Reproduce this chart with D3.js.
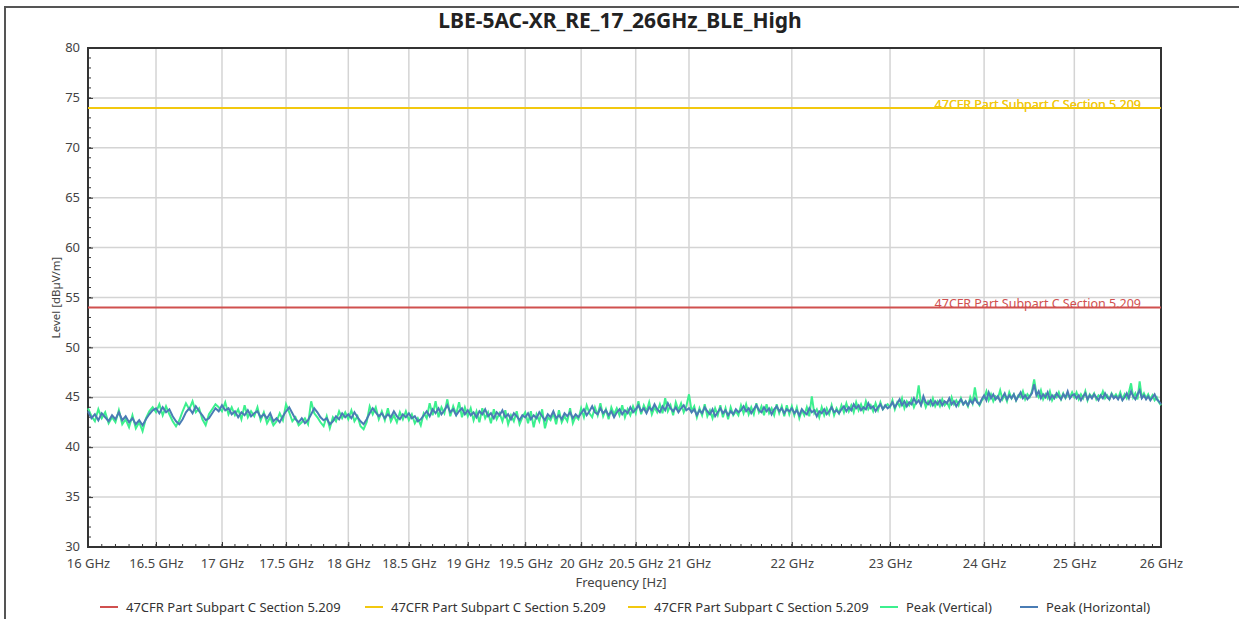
<!DOCTYPE html>
<html>
<head>
<meta charset="utf-8">
<script src="https://cdn.jsdelivr.net/npm/d3@7"></script>
<style>
  body { margin: 0; background: #fff; }
  svg { font-family: "Noto Sans", "Open Sans", sans-serif; }
</style>
</head>
<body>
<div id="chart"></div>
<script>
const chartTitle = "LBE-5AC-XR_RE_17_26GHz_BLE_High";
const xTickValues = [16, 16.5, 17, 17.5, 18, 18.5, 19, 19.5, 20, 20.5, 21, 22, 23, 24, 25, 26];
const yTickValues = [30, 35, 40, 45, 50, 55, 60, 65, 70, 75, 80];

const limitNames = ["47CFR Part Subpart C Section 5.209", "47CFR Part Subpart C Section 5.209", "47CFR Part Subpart C Section 5.209"];
const limitLevels = [54, 74, 74];
const limitColors = ["#d0504f", "#f2c80f", "#f2c80f"];

// sweep grid, GHz
const freqStart = 16;
const freqStep = 0.025;

const peakVertical = [
  43.9, 43.1, 42.6, 43.8, 42.9, 43.5, 42.4, 43.0, 42.5, 43.7, 42.3, 42.8, 42.0, 43.2, 41.9, 42.5, 41.6, 42.9, 43.6, 44.0,
  43.5, 44.3, 43.2, 44.1, 43.3, 42.6, 42.1, 42.7, 43.6, 44.4, 43.8, 44.6, 43.5, 43.9, 42.8, 42.2, 43.3, 43.8, 44.3, 44.0,
  43.6, 44.5, 43.3, 44.0, 43.2, 43.8, 42.8, 44.2, 43.0, 43.6, 43.1, 44.0, 42.7, 43.5, 42.4, 43.0, 42.2, 42.6, 43.4, 42.7,
  44.3, 43.5, 42.6, 43.0, 42.2, 42.5, 42.9, 42.3, 44.6, 43.4, 43.0, 42.5, 42.1, 43.1, 41.9, 43.0, 42.6, 43.6, 42.9, 43.5,
  42.8, 43.7, 42.6, 43.1, 42.1, 41.8, 42.5, 44.1, 43.3, 44.0, 42.8, 43.6, 42.7, 43.9, 42.6, 43.2, 42.5, 43.5, 42.8, 43.6,
  42.7, 43.3, 42.4, 42.9, 42.2, 43.4, 42.9, 44.4, 43.2, 44.6, 43.0, 44.0, 43.4, 44.8, 43.1, 44.1, 43.3, 44.5, 43.0, 44.0,
  43.1, 43.9, 42.7, 43.6, 42.5, 43.9, 42.9, 43.5, 42.4, 43.8, 42.8, 43.4, 42.6, 43.7, 42.3, 43.2, 42.6, 43.6, 42.3, 43.0,
  43.5, 42.4, 43.6, 42.0, 43.3, 42.6, 43.8, 41.9, 43.0, 42.7, 43.4, 42.3, 43.7, 42.5, 43.1, 42.6, 43.9, 42.4, 43.1, 42.8,
  43.9, 43.0, 44.2, 43.4, 43.0, 44.0, 43.2, 44.4, 43.1, 43.8, 42.8, 44.0, 43.3, 43.9, 43.2, 44.2, 43.0, 43.8, 43.2, 44.1,
  43.4, 44.6, 43.3, 44.2, 43.6, 44.5, 43.3, 44.0, 43.5, 44.3, 43.4, 44.9, 43.6, 44.2, 43.2, 44.5, 43.7, 44.4, 43.5, 44.1,
  45.3, 43.6, 44.1, 43.0, 43.9, 43.2, 44.3, 43.1, 43.7, 42.9, 43.9, 43.2, 44.2, 43.0, 43.9, 42.8, 44.0, 43.2, 43.6, 43.2,
  44.2, 43.4, 44.3, 43.3, 44.0, 43.3, 44.4, 43.5, 44.1, 43.2, 44.3, 43.4, 43.9, 43.2, 44.3, 43.4, 44.1, 43.1, 44.2, 43.3,
  44.1, 43.2, 44.0, 42.9, 43.7, 43.2, 44.0, 43.1, 45.1, 43.4, 43.8, 43.0, 44.0, 43.2, 43.9, 43.3, 44.2, 43.2, 43.9, 43.4,
  44.2, 43.5, 44.4, 43.6, 44.2, 43.5, 44.5, 43.7, 44.3, 43.6, 44.6, 43.8, 44.2, 43.6, 44.4, 43.7, 44.5, 43.8, 44.1, 44.3,
  44.0, 44.7, 43.8, 44.5, 44.1, 44.9, 43.9, 44.6, 44.2, 44.8, 44.0, 44.6, 46.2, 44.3, 44.8, 44.0, 44.6, 44.2, 44.9, 44.1,
  44.6, 44.1, 44.8, 44.2, 44.5, 44.0, 45.0, 44.3, 44.7, 44.2, 44.9, 44.3, 44.6, 44.1, 45.0, 44.4, 46.0, 44.6, 44.2, 44.7,
  44.9, 45.6, 44.7, 45.3, 44.6, 45.1, 44.9, 45.7, 44.8, 45.2, 44.6, 45.5, 44.9, 45.3, 44.7, 45.2, 45.0, 45.6, 44.8, 45.3,
  45.0, 45.6, 46.8, 45.4, 45.0, 45.7, 44.8, 45.3, 44.9, 45.6, 44.7, 45.2, 45.0, 45.5, 44.8, 45.4, 44.9, 45.3, 45.0, 45.5,
  45.0, 45.5, 44.8, 45.3, 44.9, 45.6, 44.7, 45.3, 45.0, 45.4, 44.8, 45.2, 45.0, 45.6, 44.9, 45.2, 44.8, 45.4, 45.0, 45.3,
  44.9, 45.5, 44.8, 45.3, 44.9, 45.5, 46.4, 45.0, 45.4, 44.8, 46.6, 45.0, 45.4, 44.9, 45.3, 44.8, 45.2, 44.7, 45.0, 44.5,
  44.2
];

const peakHorizontal = [
  43.6, 42.9, 43.3, 42.7, 43.4, 43.0, 42.6, 43.2, 42.8, 43.5, 42.7, 43.1, 42.5, 42.9, 42.3, 42.7, 42.2, 42.8, 43.3, 43.7,
  43.9, 43.4, 44.0, 43.5, 43.8, 43.1, 42.6, 42.3, 42.8, 43.5, 43.9, 43.4, 44.1, 43.6, 43.2, 42.7, 42.9, 43.4, 43.9, 43.6,
  44.2, 43.7, 43.9, 43.3, 43.6, 43.0, 43.5, 43.2, 43.7, 43.1, 43.4, 43.6, 43.0, 43.3, 42.9, 43.4, 42.6, 42.9, 42.5, 43.1,
  43.6, 44.0, 43.4, 42.8, 42.5, 42.9, 42.4, 42.7, 43.3, 43.9, 43.5, 43.0, 42.7, 42.9, 42.3, 42.6, 43.1, 42.8, 43.4, 43.0,
  43.3, 42.9, 43.5, 43.0, 42.6, 42.3, 42.8, 43.4, 43.9, 43.5, 43.1, 43.4, 42.9, 43.3, 43.0, 43.6, 43.1, 42.8, 43.3, 43.0,
  43.4, 42.9, 43.1, 42.6, 42.8, 43.2, 43.6, 43.1, 43.8, 43.4, 43.9, 43.3, 43.7, 44.2, 43.5, 43.8, 43.2, 43.6, 43.9, 43.3,
  43.7, 43.2, 43.5, 43.0, 43.6, 43.3, 43.8, 43.1, 43.4, 42.9, 43.5, 43.2, 43.7, 43.0, 43.3, 42.8, 43.4, 43.1, 42.7, 43.2,
  43.0, 43.4, 42.8, 43.2, 42.9, 43.5, 43.1, 42.7, 43.3, 43.0, 43.6, 42.9, 43.2, 42.8, 43.4, 43.1, 43.5, 42.9, 43.3, 43.0,
  43.4, 43.8, 43.2, 43.6, 44.1, 43.5, 43.3, 43.9, 43.4, 43.7, 43.2, 43.6, 43.0, 43.5, 43.8, 43.3, 43.7, 43.4, 44.0, 43.5,
  43.8, 44.2, 43.6, 43.9, 43.4, 44.0, 43.7, 44.3, 43.8, 43.5, 44.1, 43.7, 44.4, 43.9, 43.6, 44.0, 43.5, 43.9, 44.2, 43.7,
  43.9, 43.5, 43.8, 43.2, 43.7, 43.4, 44.0, 43.6, 43.3, 43.8, 43.1, 43.5, 43.9, 43.4, 43.7, 43.2, 43.6, 43.3, 43.8, 43.5,
  43.7, 44.1, 43.6, 43.9, 43.4, 43.8, 44.2, 43.7, 43.5, 44.0, 43.6, 43.9, 43.3, 43.8, 44.1, 43.6, 43.9, 43.4, 43.8, 43.6,
  43.9, 43.4, 43.7, 43.2, 43.8, 43.5, 43.3, 43.9, 43.5, 43.7, 43.1, 43.6, 43.4, 43.8, 43.3, 43.6, 44.0, 43.5, 43.7, 43.4,
  43.8, 44.1, 43.6, 44.0, 43.7, 44.3, 43.9, 44.2, 43.7, 44.0, 43.8, 44.4, 43.9, 44.1, 43.6, 44.0, 44.3, 43.8, 44.2, 43.9,
  44.1, 44.5, 44.0, 44.4, 44.8, 44.2, 44.6, 44.1, 44.5, 44.3, 44.9, 44.4, 44.7, 44.2, 45.1, 44.5, 44.3, 44.7, 44.2, 44.6,
  44.3, 44.7, 44.2, 44.6, 44.4, 44.9, 44.3, 44.6, 44.1, 44.5, 44.8, 44.3, 44.6, 44.2, 44.7, 44.4, 44.9, 44.5, 44.3, 44.8,
  45.2, 44.7, 45.5, 44.9, 45.3, 44.8, 45.1, 44.6, 45.0, 45.4, 44.8, 45.2, 44.9, 45.3, 44.7, 45.1, 45.5, 44.9, 45.2, 44.8,
  45.1, 45.4, 46.3, 45.2, 45.6, 44.9, 45.3, 45.0, 45.5, 44.8, 45.2, 44.9, 45.4, 45.1, 44.8, 45.3, 45.0, 45.6, 44.9, 45.2,
  45.3, 44.9, 45.2, 44.7, 45.1, 45.4, 44.8, 45.2, 44.9, 45.3, 45.0, 44.7, 45.2, 44.9, 45.4, 45.0, 44.8, 45.3, 44.9, 45.1,
  44.8, 45.2, 44.7, 45.0, 45.4, 44.9, 45.6, 45.1, 44.8, 45.3, 45.7, 44.9, 45.2, 44.8, 45.1, 44.7, 45.0, 45.3, 44.8, 44.6,
  44.3
];

const legendItems = [
  { name: limitNames[0], color: limitColors[0], x: 100 },
  { name: limitNames[1], color: limitColors[1], x: 365 },
  { name: limitNames[2], color: limitColors[2], x: 628 },
  { name: "Peak (Vertical)", color: "#3cf08e", x: 880 },
  { name: "Peak (Horizontal)", color: "#4a7cb4", x: 1020 }
];

const width = 1239, height = 619;
const margin = { top: 48, right: 78, bottom: 72, left: 88 };
const innerW = width - margin.left - margin.right;
const innerH = height - margin.top - margin.bottom;

const svg = d3.select("#chart").append("svg")
    .attr("width", width)
    .attr("height", height);

// outer frame
svg.append("path")
    .attr("d", `M5,${height} V7 H${width}`)
    .attr("fill", "none")
    .attr("stroke", "#555")
    .attr("stroke-width", 2);

svg.append("text")
    .attr("x", 620)
    .attr("y", 28)
    .attr("text-anchor", "middle")
    .attr("font-size", 21)
    .attr("font-weight", "bold")
    .attr("fill", "#222")
    .text(chartTitle);

const x = d3.scaleLog().domain([16, 26]).range([0, innerW]);
const y = d3.scaleLinear().domain([30, 80]).range([innerH, 0]);

const g = svg.append("g").attr("transform", `translate(${margin.left},${margin.top})`);

// grid
g.append("g")
    .selectAll("line")
    .data(yTickValues.slice(1, -1))
    .join("line")
    .attr("x1", 0).attr("x2", innerW)
    .attr("y1", d => y(d)).attr("y2", d => y(d))
    .attr("stroke", "#d4d4d4")
    .attr("stroke-width", 1.5);

g.append("g")
    .selectAll("line")
    .data(xTickValues.slice(1, -1))
    .join("line")
    .attr("x1", d => x(d)).attr("x2", d => x(d))
    .attr("y1", 0).attr("y2", innerH)
    .attr("stroke", "#d4d4d4")
    .attr("stroke-width", 1.5);

// minor ticks
const yMinor = d3.range(31, 80, 1);
g.append("g")
    .selectAll("line")
    .data(yMinor)
    .join("line")
    .attr("x1", 0).attr("x2", 3)
    .attr("y1", d => y(d)).attr("y2", d => y(d))
    .attr("stroke", "#333");

const xMinor = d3.range(161, 260, 1).map(d => d / 10);
g.append("g")
    .selectAll("line")
    .data(xMinor)
    .join("line")
    .attr("x1", d => x(d)).attr("x2", d => x(d))
    .attr("y1", innerH).attr("y2", innerH - 3)
    .attr("stroke", "#333");

// axes
const yAxis = g.append("g")
    .call(d3.axisLeft(y).tickValues(yTickValues).tickSize(-5).tickPadding(8));
yAxis.select(".domain").remove();
yAxis.selectAll("text").attr("font-size", 13).attr("fill", "#444").attr("dy", "0.28em")
    .attr("font-family", "Noto Sans, sans-serif");
yAxis.selectAll("line").attr("stroke", "#333");

const xAxis = g.append("g")
    .attr("transform", `translate(0,${innerH})`)
    .call(d3.axisBottom(x).tickValues(xTickValues).tickFormat(d => d + " GHz").tickSize(-5).tickPadding(12));
xAxis.select(".domain").remove();
xAxis.selectAll("text").attr("font-size", 13).attr("fill", "#444")
    .attr("font-family", "Noto Sans, sans-serif");
xAxis.selectAll("line").attr("stroke", "#333");

// frame
g.append("rect")
    .attr("width", innerW)
    .attr("height", innerH)
    .attr("fill", "none")
    .attr("stroke", "#333")
    .attr("stroke-width", 2);

// limits
limitLevels.forEach((lv, i) => {
    g.append("line")
        .attr("x1", 0).attr("x2", innerW)
        .attr("y1", y(lv)).attr("y2", y(lv))
        .attr("stroke", limitColors[i])
        .attr("stroke-width", 2);
    g.append("text")
        .attr("x", innerW - 20)
        .attr("y", y(lv) + 1)
        .attr("text-anchor", "end")
        .attr("font-size", 12.5)
        .attr("fill", limitColors[i])
        .text(limitNames[i]);
});

// traces
const line = d3.line()
    .x((d, i) => x(freqStart + i * freqStep))
    .y(d => y(d));

g.append("path")
    .datum(peakVertical)
    .attr("d", line)
    .attr("fill", "none")
    .attr("stroke", legendItems[3].color)
    .attr("stroke-width", 2);

g.append("path")
    .datum(peakHorizontal)
    .attr("d", line)
    .attr("fill", "none")
    .attr("stroke", legendItems[4].color)
    .attr("stroke-width", 2);

// axis titles
svg.append("text")
    .attr("transform", `translate(60,${margin.top + innerH / 2}) rotate(-90)`)
    .attr("text-anchor", "middle")
    .attr("font-size", 11.5)
    .attr("fill", "#444")
    .text("Level [dBµV/m]");

svg.append("text")
    .attr("x", 621)
    .attr("y", 587)
    .attr("text-anchor", "middle")
    .attr("font-size", 13)
    .attr("fill", "#444")
    .text("Frequency [Hz]");

// legend
const legend = svg.append("g").attr("transform", "translate(0,607)");
legendItems.forEach(item => {
    legend.append("line")
        .attr("x1", item.x).attr("x2", item.x + 18)
        .attr("stroke", item.color)
        .attr("stroke-width", 2);
    legend.append("text")
        .attr("x", item.x + 26)
        .attr("y", 4.5)
        .attr("font-size", 13)
        .attr("fill", "#333")
        .text(item.name);
});
</script>
</body>
</html>
